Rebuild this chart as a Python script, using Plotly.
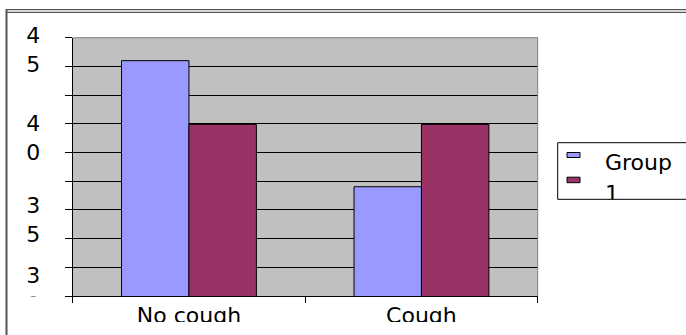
import plotly.graph_objects as go

W, H = 686, 335

categories = ["No cough", "Cough"]
group1 = [44.66, 37.02]
group2 = [40.8, 40.8]
series_names = ["Group 1", "Group 2"]
ytick_vals = [45.3, 40.0, 35.0, 30.76]
ytick_text = ["4<br>5", "4<br>0", "3<br>5", "3<br>0"]
y_min, y_max = 30.4, 46.05
n_grid = 9

FONT = "DejaVu Sans, Liberation Sans, Arial, sans-serif"
FSIZE = 22
BLUE = "#9999ff"
MAROON = "#993366"


def fx(px):
    return px / W


def fy(py):
    return 1 - py / H


# plot area in pixels
PL, PR, PT, PB = 72.7, 537.7, 37.7, 296.0
# legend box in pixels
LL, LT, LB = 557.7, 142.7, 199.3

fig = go.Figure()
fig.add_trace(go.Bar(name=series_names[0], x=categories, y=group1,
                     marker=dict(color=BLUE, line=dict(color="#000000", width=1)),
                     xaxis="x", yaxis="y"))
fig.add_trace(go.Bar(name=series_names[1], x=categories, y=group2,
                     marker=dict(color=MAROON, line=dict(color="#000000", width=1)),
                     xaxis="x", yaxis="y"))

# legend text, clipped by its own small subplot (like the original)
fig.add_trace(go.Scatter(x=[605, 605], y=[164.5, 196.0], mode="text",
                         text=["Group", "1"], textposition="middle right",
                         textfont=dict(family=FONT, size=FSIZE, color="#000000"),
                         xaxis="x2", yaxis="y2", hoverinfo="skip",
                         cliponaxis=True, showlegend=False))

shapes = [
    # gray plot area
    dict(type="rect", xref="paper", yref="paper", x0=fx(PL), x1=fx(PR), y0=fy(PB), y1=fy(PT),
         fillcolor="#c0c0c0", line=dict(width=0), layer="below"),
    # top & right border of plot area
    dict(type="line", xref="paper", yref="paper", x0=fx(PL), x1=fx(PR), y0=fy(PT), y1=fy(PT),
         line=dict(color="#808080", width=1), layer="above"),
    dict(type="line", xref="paper", yref="paper", x0=fx(PR), x1=fx(PR), y0=fy(PB), y1=fy(PT),
         line=dict(color="#808080", width=1), layer="above"),
    # outer chart border (top double line, left line)
    dict(type="rect", xref="paper", yref="paper", x0=fx(6.5), x1=fx(700), y0=fy(12.5), y1=fy(9.5),
         fillcolor="#d4d4d4", line=dict(color="#555555", width=1), layer="above"),
    dict(type="line", xref="paper", yref="paper", x0=fx(6.5), x1=fx(6.5), y0=fy(340), y1=fy(9),
         line=dict(color="#555555", width=2), layer="above"),
    # white covers that clip the labels like the original
    dict(type="rect", xref="paper", yref="paper", x0=fx(60), x1=fx(555), y0=fy(340), y1=fy(322),
         fillcolor="#ffffff", line=dict(width=0), layer="above"),
    dict(type="rect", xref="paper", yref="paper", x0=fx(12), x1=fx(60), y0=fy(340), y1=fy(296.5),
         fillcolor="#ffffff", line=dict(width=0), layer="above"),
    # legend box
    dict(type="rect", xref="paper", yref="paper", x0=fx(LL), x1=fx(720), y0=fy(LB), y1=fy(LT),
         fillcolor="rgba(0,0,0,0)", line=dict(color="#000000", width=1), layer="above"),
    # legend keys
    dict(type="rect", xref="paper", yref="paper", x0=fx(567), x1=fx(580), y0=fy(157.5), y1=fy(152.5),
         fillcolor=BLUE, line=dict(color="#000000", width=1), layer="above"),
    dict(type="rect", xref="paper", yref="paper", x0=fx(567), x1=fx(580), y0=fy(182.7), y1=fy(177.2),
         fillcolor=MAROON, line=dict(color="#000000", width=1), layer="above"),
]

fig.update_layout(
    template="none",
    width=W, height=H,
    margin=dict(l=0, r=0, t=0, b=0, pad=0),
    paper_bgcolor="#ffffff",
    plot_bgcolor="rgba(0,0,0,0)",
    showlegend=False,
    barmode="group",
    bargap=0.42,
    bargroupgap=0,
    font=dict(family=FONT, size=FSIZE, color="#000000"),
    shapes=shapes,
    xaxis=dict(
        domain=[fx(PL), fx(PR)], anchor="y", type="category", automargin=False,
        showline=True, linecolor="#000000", linewidth=1,
        ticks="outside", tickson="boundaries", ticklen=6, tickcolor="#000000", tickwidth=1,
        showgrid=False, zeroline=False,
        tickfont=dict(family=FONT, size=FSIZE, color="#000000"),
        fixedrange=True,
    ),
    yaxis=dict(
        domain=[fy(PB), fy(PT)], anchor="x", automargin=False,
        range=[y_min, y_max + 0.0005],
        tickmode="array", tickvals=ytick_vals, ticktext=ytick_text,
        ticks="", showgrid=False, zeroline=False,
        showline=True, linecolor="#000000", linewidth=1,
        ticklabelstandoff=27,
        tickfont=dict(family=FONT, size=FSIZE, color="#000000"),
        minor=dict(tick0=y_min, dtick=(y_max - y_min) / n_grid, showgrid=True,
                   gridcolor="#000000", gridwidth=1,
                   ticks="outside", ticklen=7, tickcolor="#000000", tickwidth=1),
        fixedrange=True,
    ),
    xaxis2=dict(domain=[fx(LL), 1], anchor="y2", range=[LL, W], visible=False,
                fixedrange=True, automargin=False),
    yaxis2=dict(domain=[fy(LB), fy(LT)], anchor="x2", range=[LB, LT], visible=False,
                fixedrange=True, automargin=False),
)

fig.write_html(
    "out.html",
    config={"displayModeBar": False},
    post_script="document.body.style.margin='0';document.body.style.overflow='hidden';",
)
